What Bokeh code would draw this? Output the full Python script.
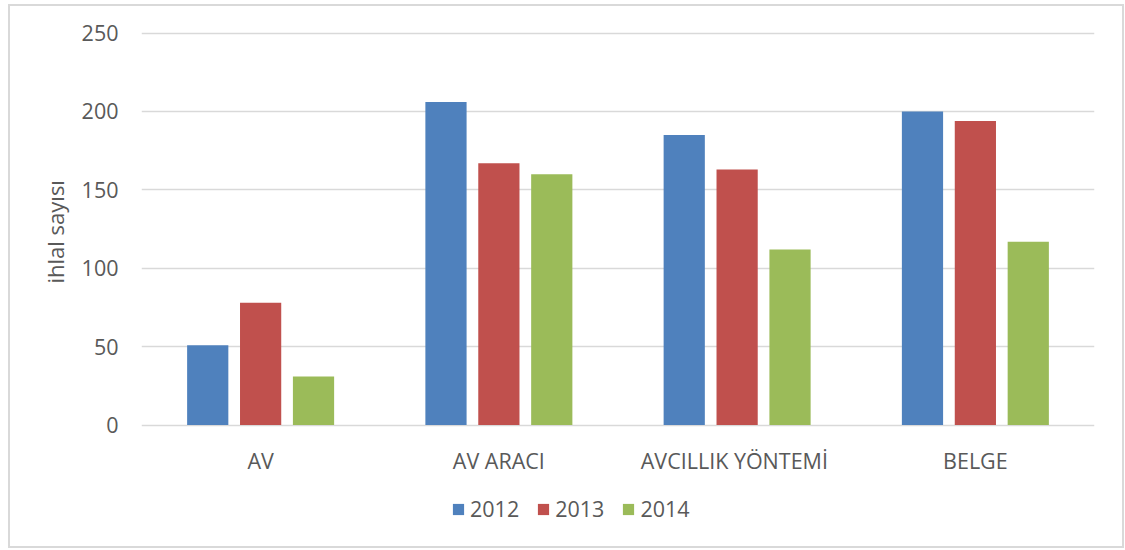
from bokeh.plotting import figure
from bokeh.models import FactorRange, Legend, LegendItem, FixedTicker, Title
from bokeh.transform import dodge
from bokeh.core.properties import value
from bokeh.embed import file_html
from bokeh.resources import INLINE
from bokeh.models import ColumnDataSource

categories = ["AV", "AV ARACI", "AVCILLIK  YÖNTEMİ", "BELGE"]
years = ["2012", "2013", "2014"]
v2012 = [51, 206, 185, 200]
v2013 = [78, 167, 163, 194]
v2014 = [31, 160, 112, 117]
y_ticks = [0, 50, 100, 150, 200, 250]
colors = ["#4F81BD", "#C0504D", "#9BBB59"]

src = ColumnDataSource(dict(cat=categories, y2012=v2012, y2013=v2013, y2014=v2014))

FONT = "Open Sans"
TXT = "#595959"

# frame extends below the 0 line to leave room for category labels and legend
p = figure(x_range=FactorRange(*categories), y_range=(-70.4, 251),
           width=1116, height=544, output_backend="svg", toolbar_location=None,
           min_border_left=131, min_border_right=32, min_border_top=25, min_border_bottom=15)
p.styles = {"border": "2px solid #d9d9d9", "margin-left": "8px", "margin-top": "4px"}

offs = [-0.222, 0.0, 0.222]
rs = []
for yr, off, col in zip(years, offs, colors):
    r = p.vbar(x=dodge("cat", off, range=p.x_range), top="y" + yr, width=0.173,
               source=src, fill_color=col, line_color=None)
    rs.append(r)

# category labels
p.text(x="cat", y=0, text="cat", source=src, y_offset=35,
       text_align="center", text_baseline="middle",
       text_font=value(FONT), text_font_size="21.5px", text_color=TXT)

p.outline_line_color = None
p.xgrid.grid_line_color = None
p.xaxis.visible = False
p.ygrid.grid_line_color = "#d9d9d9"
p.ygrid.grid_line_width = 1.5

p.yaxis.ticker = FixedTicker(ticks=y_ticks)
p.yaxis.axis_line_color = None
p.yaxis.major_tick_line_color = None
p.yaxis.minor_tick_line_color = None
p.yaxis.major_label_standoff = 17
p.yaxis.major_label_text_font = FONT
p.yaxis.major_label_text_font_size = "21.5px"
p.yaxis.major_label_text_color = TXT

ylab = Title(text="ihlal sayısı", align="left", offset=252,
             text_font=FONT, text_font_size="22px", text_font_style="normal",
             text_color=TXT, standoff=18)
p.add_layout(ylab, "left")

legend = Legend(items=[LegendItem(label=yr, renderers=[r]) for yr, r in zip(years, rs)],
                orientation="horizontal", location=(310, 12),
                label_text_font=FONT, label_text_font_size="21.5px", label_text_color=TXT,
                glyph_width=14, glyph_height=14, label_standoff=5, spacing=17,
                border_line_color=None, background_fill_alpha=0, margin=0, padding=0)
p.add_layout(legend)

open("out.html", "w").write(file_html(p, INLINE))
